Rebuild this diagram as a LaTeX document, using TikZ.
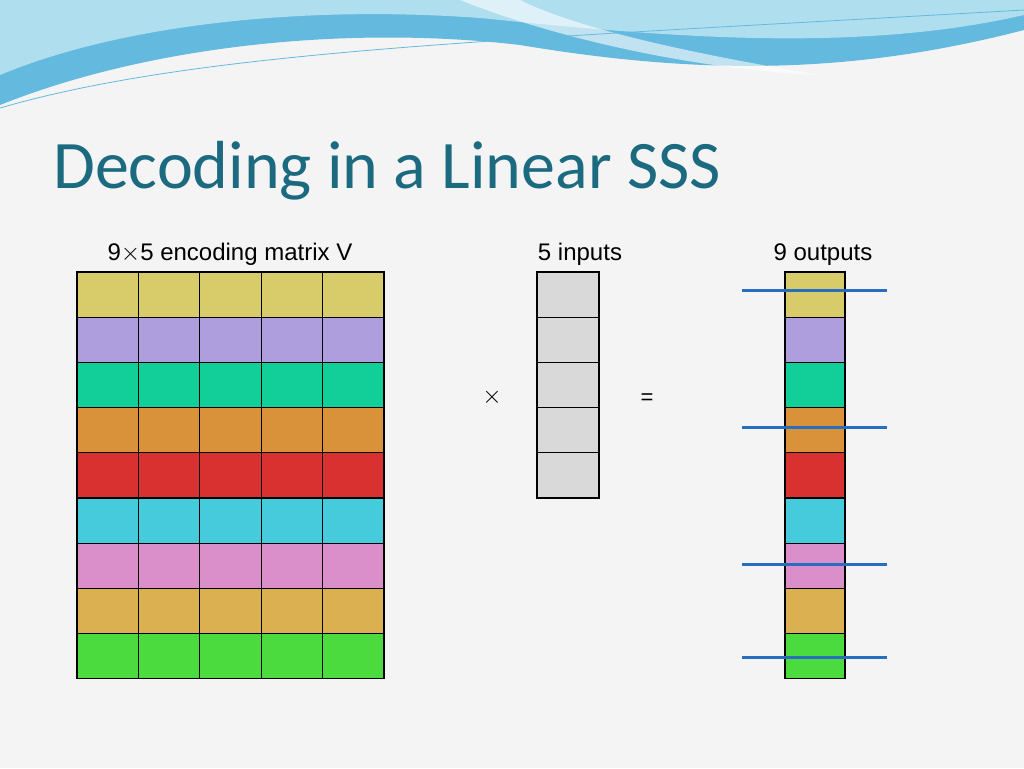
\documentclass[tikz,border=0pt]{standalone}
\usepackage{fontspec}
\setmainfont{Liberation Sans}
\newfontfamily\titlefont{Carlito}
\definecolor{bgpaper}{RGB}{244,244,244}
\definecolor{titleteal}{RGB}{27,106,128}
\definecolor{wavelight}{RGB}{175,222,238}
\definecolor{wavedark}{RGB}{100,185,222}
\definecolor{cutblue}{RGB}{40,110,190}
\definecolor{cyel}{RGB}{215,203,106}
\definecolor{cpur}{RGB}{174,158,221}
\definecolor{cgrn}{RGB}{18,207,154}
\definecolor{corg}{RGB}{217,146,57}
\definecolor{cred}{RGB}{217,48,48}
\definecolor{ccya}{RGB}{69,203,220}
\definecolor{cpnk}{RGB}{218,143,203}
\definecolor{cgld}{RGB}{218,176,80}
\definecolor{clim}{RGB}{76,219,63}
\definecolor{cgry}{RGB}{217,217,217}

\begin{document}
\begin{tikzpicture}[x=1pt,y=-1pt,
  cell/.style={draw=black,line width=1.3pt},
  cutline/.style={cutblue,line width=3pt},
  lbl/.style={font=\fontsize{24}{28}\selectfont,anchor=base}]
  \fill[bgpaper] (0,0) rectangle (1024,768);
  \useasboundingbox (0,0) rectangle (1024,768);
  % wave banner
  \fill[wavedark] (0,0) -- (1024,0) -- (1024,30)
    .. controls (850,75) and (700,75) .. (520,45)
    .. controls (350,25) and (150,45) .. (0,105) -- cycle;
  \fill[wavelight] (0,0) -- (1024,0) -- (1024,15)
    .. controls (850,55) and (650,35) .. (480,18)
    .. controls (300,5) and (120,25) .. (0,75) -- cycle;
  \fill[white,opacity=0.6] (460,0) .. controls (560,40) and (700,70) .. (820,75)
    .. controls (700,55) and (580,30) .. (520,0) -- cycle;
  \draw[wavedark,line width=0.8pt] (0,108) .. controls (200,50) and (500,40) .. (1024,10);
  % title
  \node[anchor=base west,text=titleteal,inner sep=0pt,
    font=\titlefont\fontsize{68}{72}\selectfont] (title) at (53,188) {Decoding in a Linear SSS};
  % labels
  \node[lbl] (lmat) at (230,260) {9$\times$5 encoding matrix V};
  \node[lbl] (lin)  at (580,260) {5 inputs};
  \node[lbl] (lout) at (823,260) {9 outputs};
  \node[font=\fontsize{26}{30}\selectfont] (times) at (492,397) {$\times$};
  \node[font=\fontsize{22}{26}\selectfont] (eq) at (647,399) {=};
  % encoding matrix and outputs
  \foreach \c [count=\r from 0] in {cyel,cpur,cgrn,corg,cred,ccya,cpnk,cgld,clim} {
    \foreach \k in {0,...,4}
      \draw[cell,fill=\c] (77+61.4*\k,272+45.2*\r) rectangle ++(61.4,45.2);
    \draw[cell,fill=\c] (785,272+45.2*\r) rectangle ++(60,45.2);
  }
  % inputs
  \foreach \r in {0,...,4}
    \draw[cell,fill=cgry] (537,272+45.2*\r) rectangle ++(62,45.2);
  % cut lines
  \foreach \y in {290,427,564,657}
    \draw[cutline] (742,\y) -- (887,\y);
\end{tikzpicture}
\end{document}
